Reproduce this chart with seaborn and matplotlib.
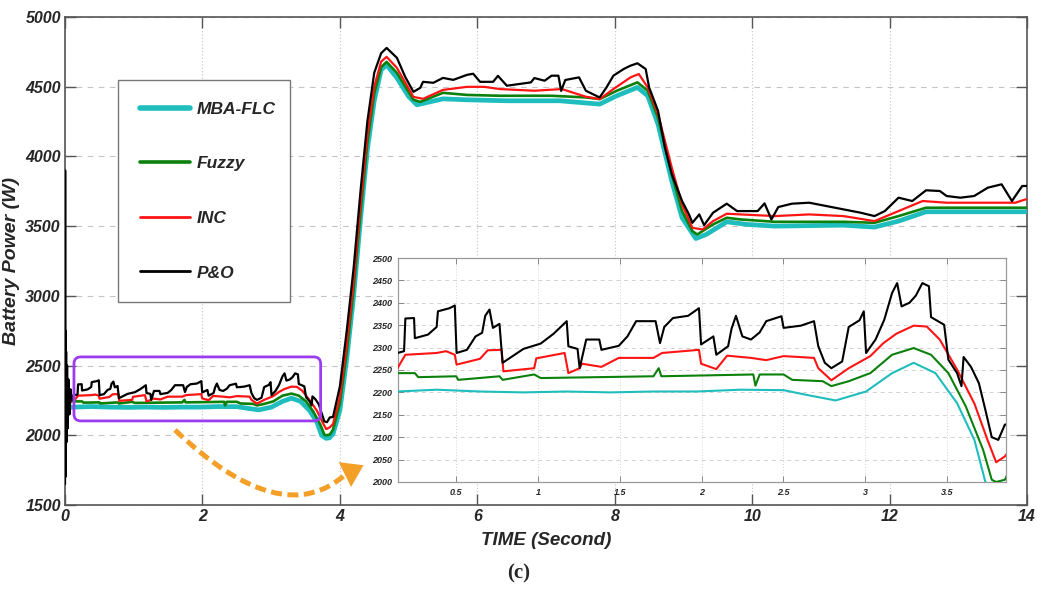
import numpy as np
import pandas as pd
import matplotlib
matplotlib.use("Agg")
import matplotlib.pyplot as plt
import seaborn as sns
from matplotlib.patches import FancyBboxPatch, FancyArrowPatch, PathPatch
from matplotlib.path import Path
from matplotlib.lines import Line2D

# ---------------- data ----------------
methods = ["MBA-FLC", "Fuzzy", "INC", "P&O"]

t_po = [0.0, 0.002, 0.005, 0.008, 0.012, 0.016, 0.02, 0.03, 0.04, 0.05, 0.065, 0.08, 0.1, 0.12,
        0.142, 0.182, 0.190, 0.243, 0.248, 0.328, 0.381, 0.389, 0.460, 0.492, 0.503, 0.566, 0.619,
        0.659, 0.678, 0.704, 0.725, 0.765, 0.784, 0.911, 1.017, 1.096, 1.176, 1.186, 1.242, 1.255,
        1.295, 1.375, 1.388, 1.494, 1.547, 1.600, 1.719, 1.746, 1.772, 1.825, 1.918, 1.984, 1.997,
        2.072, 2.090, 2.162, 2.183, 2.210, 2.249, 2.302, 2.355, 2.395, 2.488, 2.501, 2.607, 2.687,
        2.713, 2.753, 2.793, 2.859, 2.899, 2.965, 2.991, 3.005, 3.063, 3.116, 3.164, 3.195, 3.222,
        3.270, 3.309, 3.349, 3.389, 3.402, 3.482, 3.508, 3.561, 3.588, 3.601, 3.646, 3.694, 3.734,
        3.773, 3.813, 3.853,
        3.90, 4.00, 4.10, 4.20, 4.30, 4.40, 4.50, 4.60, 4.68, 4.83, 4.95, 5.07, 5.17, 5.21, 5.36,
        5.50, 5.65, 5.85, 5.94, 6.04, 6.23, 6.30, 6.43, 6.78, 6.83, 6.98, 7.08, 7.18, 7.22, 7.28,
        7.48, 7.58, 7.78, 7.88, 7.98, 8.13, 8.23, 8.33, 8.45, 8.50, 8.63, 8.73, 8.83, 8.98, 9.08,
        9.13, 9.23, 9.30, 9.43, 9.63, 9.78, 10.08, 10.18, 10.28, 10.38, 10.58, 10.83, 11.08, 11.33,
        11.58, 11.78, 11.93, 12.13, 12.33, 12.53, 12.73, 12.83, 13.03, 13.23, 13.43, 13.63, 13.78,
        13.93, 14.0]
p_po = [1650, 3900, 1700, 2750, 1750, 2600, 1950, 2500, 2050, 2400, 2150, 2330, 2250, 2285,
        2288, 2292, 2365, 2366, 2321, 2329, 2346, 2381, 2388, 2394, 2288, 2295, 2325, 2333, 2371,
        2385, 2344, 2353, 2266, 2297, 2309, 2331, 2359, 2303, 2297, 2254, 2318, 2318, 2295, 2304,
        2325, 2359, 2359, 2310, 2346, 2366, 2371, 2388, 2307, 2325, 2284, 2303, 2342, 2371, 2325,
        2318, 2334, 2359, 2370, 2344, 2349, 2359, 2303, 2266, 2254, 2269, 2346, 2361, 2381, 2288,
        2318, 2362, 2422, 2444, 2392, 2400, 2416, 2444, 2437, 2368, 2351, 2273, 2243, 2214, 2279,
        2257, 2221, 2161, 2100, 2094, 2128,
        2131, 2350, 2750, 3200, 3750, 4250, 4600, 4740, 4778, 4707, 4571, 4463, 4492, 4535, 4528,
        4563, 4549, 4585, 4593, 4535, 4535, 4578, 4507, 4531, 4562, 4543, 4579, 4579, 4470, 4548,
        4567, 4471, 4423, 4495, 4579, 4627, 4651, 4668, 4627, 4495, 4327, 4064, 3872, 3680, 3584,
        3524, 3584, 3507, 3596, 3661, 3608, 3608, 3663, 3548, 3637, 3661, 3668, 3644, 3620, 3596,
        3572, 3608, 3704, 3680, 3757, 3752, 3716, 3704, 3716, 3776, 3800, 3680, 3788, 3788]

t_inc = [0.02, 0.06, 0.10, 0.142, 0.190, 0.381, 0.439, 0.492, 0.503, 0.646, 0.693, 0.778, 0.789,
         0.977, 0.990, 1.163, 1.186, 1.255, 1.269, 1.388, 1.494, 1.706, 1.759, 1.984, 1.997, 2.090,
         2.156, 2.302, 2.395, 2.501, 2.687, 2.713, 2.793, 2.899, 3.031, 3.111, 3.190, 3.296, 3.376,
         3.455, 3.561, 3.667, 3.747, 3.800, 3.853,
         3.90, 4.00, 4.10, 4.20, 4.30, 4.40, 4.50, 4.60, 4.68, 4.83, 5.07, 5.21, 5.50, 5.85, 6.10,
         6.33, 6.83, 7.23, 7.58, 7.78, 7.98, 8.23, 8.35, 8.48, 8.63, 8.83, 8.98, 9.13, 9.28, 9.43,
         9.63, 9.83, 10.33, 10.83, 11.33, 11.78, 12.13, 12.48, 12.83, 13.33, 13.83, 13.98, 14.0]
p_inc = [2300, 2220, 2260, 2254, 2284, 2288, 2292, 2284, 2262, 2275, 2294, 2295, 2247, 2254, 2276,
         2288, 2243, 2254, 2264, 2257, 2277, 2277, 2288, 2295, 2264, 2252, 2282, 2277, 2272, 2281,
         2277, 2254, 2227, 2254, 2281, 2310, 2331, 2349, 2347, 2318, 2251, 2175, 2094, 2044, 2057,
         2080, 2275, 2650, 3100, 3650, 4150, 4500, 4680, 4714, 4635, 4427, 4413, 4477, 4499, 4499,
         4483, 4471, 4483, 4428, 4411, 4483, 4567, 4591, 4495, 4303, 3920, 3656, 3488, 3476, 3536,
         3589, 3584, 3572, 3584, 3572, 3536, 3608, 3680, 3668, 3668, 3668, 3692, 3692]

t_fuzzy = [0.02, 0.06, 0.10, 0.142, 0.248, 0.269, 0.500, 0.513, 0.765, 0.784, 0.977, 1.017, 1.706,
           1.738, 1.754, 2.316, 2.329, 2.355, 2.501, 2.554, 2.740, 2.793, 2.899, 3.031, 3.164,
           3.296, 3.402, 3.508, 3.614, 3.720, 3.773, 3.800, 3.853,
           3.90, 4.00, 4.10, 4.20, 4.30, 4.40, 4.50, 4.60, 4.68, 4.83, 5.07, 5.17, 5.50, 5.85, 6.33,
           7.08, 7.58, 7.78, 8.03, 8.33, 8.48, 8.63, 8.83, 8.98, 9.13, 9.20, 9.43, 9.63, 9.83, 10.33,
           11.33, 11.78, 12.13, 12.53, 13.30, 14.0]
p_fuzzy = [2260, 2230, 2245, 2243, 2243, 2234, 2236, 2228, 2236, 2228, 2240, 2232, 2236, 2254, 2236,
           2240, 2215, 2240, 2240, 2228, 2225, 2214, 2225, 2243, 2284, 2299, 2284, 2243, 2169, 2072,
           2005, 2000, 2005,
           2040, 2230, 2600, 3050, 3600, 4100, 4450, 4640, 4678, 4599, 4406, 4391, 4456, 4441, 4435,
           4435, 4423, 4411, 4471, 4531, 4471, 4279, 3872, 3608, 3464, 3440, 3512, 3560, 3548, 3531,
           3531, 3524, 3572, 3632, 3632, 3632]

t_mba = [0.02, 0.06, 0.10, 0.142, 0.381, 0.646, 0.911, 1.176, 1.441, 1.706, 1.971, 2.236, 2.501,
         2.634, 2.819, 3.005, 3.164, 3.296, 3.429, 3.561, 3.667, 3.734, 3.80, 3.85,
         3.90, 4.00, 4.10, 4.20, 4.30, 4.40, 4.50, 4.60, 4.68, 4.83, 5.00, 5.12, 5.50, 5.85, 6.43,
         7.20, 7.78, 8.03, 8.33, 8.48, 8.63, 8.83, 8.98, 9.18, 9.33, 9.63, 9.93, 10.33, 11.33, 11.78,
         12.13, 12.53, 13.30, 14.0]
p_mba = [2180, 2210, 2200, 2202, 2206, 2202, 2200, 2202, 2200, 2202, 2202, 2206, 2205, 2195, 2182,
         2202, 2243, 2266, 2243, 2176, 2094, 2000, 1978, 1982,
         2010, 2180, 2550, 3000, 3550, 4050, 4400, 4620, 4657, 4563, 4430, 4370, 4413, 4406, 4399,
         4399, 4375, 4435, 4495, 4435, 4231, 3824, 3560, 3411, 3440, 3531, 3512, 3500, 3507, 3493,
         3536, 3603, 3603, 3603]

x_ticks = [0, 2, 4, 6, 8, 10, 12, 14]
y_ticks = [1500, 2000, 2500, 3000, 3500, 4000, 4500, 5000]
inset_x_ticks = [0.5, 1.0, 1.5, 2.0, 2.5, 3.0, 3.5]
inset_x_labels = ["0.5", "1", "1.5", "2", "2.5", "3", "3.5"]
inset_y_ticks = [2000, 2050, 2100, 2150, 2200, 2250, 2300, 2350, 2400, 2450, 2500]
zoom_window = (0.13, 3.72, 2103, 2562)   # t0, t1, p0, p1 of the highlighted region

# ---------------- styling ----------------
colors = {"MBA-FLC": "#1fbdbd", "Fuzzy": "#0b800b", "INC": "#ff1414", "P&O": "#000000"}
main_lw = {"MBA-FLC": 3.4, "Fuzzy": 1.9, "INC": 1.6, "P&O": 1.6}
leg_lw = {"MBA-FLC": 4.0, "Fuzzy": 2.6, "INC": 2.0, "P&O": 2.0}

sns.set_theme(style="white")
plt.rcParams["font.family"] = ["Liberation Sans", "DejaVu Sans"]

series = {"MBA-FLC": (t_mba, p_mba), "Fuzzy": (t_fuzzy, p_fuzzy),
          "INC": (t_inc, p_inc), "P&O": (t_po, p_po)}
df = pd.concat([pd.DataFrame({"t": series[m][0], "P": series[m][1], "method": m})
                for m in methods], ignore_index=True)

fig = plt.figure(figsize=(10.37, 5.96), dpi=100)
ax = fig.add_axes([0.0627, 0.1527, 0.9277, 0.8188])

for m in methods:
    sns.lineplot(data=df[df.method == m], x="t", y="P", color=colors[m], lw=main_lw[m],
                 estimator=None, sort=False, ax=ax, zorder=3)

ax.set_xlim(0, 14)
ax.set_ylim(1500, 5000)
ax.set_xticks(x_ticks)
ax.set_yticks(y_ticks)
ax.set_xticklabels([str(v) for v in x_ticks])
ax.set_yticklabels([str(v) for v in y_ticks])
ax.tick_params(direction="in", length=8, width=1.0, top=True, right=True, bottom=True, left=True,
               color="#555555", labelsize=11.5, pad=3)
for lbl in ax.get_xticklabels() + ax.get_yticklabels():
    lbl.set_fontweight("bold")
    lbl.set_fontstyle("italic")
ax.yaxis.grid(True, linestyle=(0, (5, 5)), color="#c4c4c4", lw=0.8)
ax.xaxis.grid(True, linestyle=(0, (1, 2)), color="#c4c4c4", lw=0.8)
ax.set_axisbelow(True)
for s in ax.spines.values():
    s.set_color("#555555")
    s.set_linewidth(1.2)

ax.set_xlabel("TIME (Second)", fontsize=13.5, fontweight="bold", fontstyle="italic", labelpad=6)
ax.set_ylabel("Battery Power (W)", fontsize=14, fontweight="bold", fontstyle="italic", labelpad=4)

handles = [Line2D([0], [0], color=colors[m], lw=leg_lw[m]) for m in methods]
leg = ax.legend(handles, methods, loc="upper left", bbox_to_anchor=(0.0551, 0.3, 0.1788, 0.5709),
                mode="expand", borderaxespad=0, frameon=True, fancybox=False, framealpha=1,
                edgecolor="#777777", labelspacing=2.27, handlelength=2.9, handletextpad=0.4,
                borderpad=1.25, prop={"weight": "bold", "style": "italic", "size": 12.5})
leg.get_frame().set_linewidth(1.0)
leg.set_zorder(5)

# highlighted zoom region
t0, t1, q0, q1 = zoom_window
box = FancyBboxPatch((t0, q0), t1 - t0, q1 - q0, boxstyle="round,pad=0,rounding_size=0.1",
                     mutation_aspect=493, transform=ax.transData, fill=False,
                     edgecolor="#9b3cf0", lw=2.0, zorder=6)
ax.add_patch(box)

# orange dashed arrow (figure fraction coords)
W, H = 1037.0, 596.0
def ff(px, py):
    return (px / W, 1 - py / H)
A, C, B = ff(175, 430), ff(282, 532), ff(346, 474)
body = PathPatch(Path([A, C, B], [Path.MOVETO, Path.CURVE3, Path.CURVE3]),
                 transform=fig.transFigure, fill=False, edgecolor="#f4a028", lw=3.6,
                 linestyle=(0, (2.2, 1.1)), capstyle="butt")
fig.add_artist(body)
head = FancyArrowPatch(ff(340, 477), ff(366, 464), transform=fig.transFigure,
                       arrowstyle="-|>,head_length=0.75,head_width=0.5", mutation_scale=20,
                       color="#f4a028", lw=0)
fig.add_artist(head)

# ---------------- inset ----------------
axin = fig.add_axes([0.3838, 0.1913, 0.5863, 0.3758])
axin.set_facecolor("white")
for m in methods:
    sns.lineplot(data=df[df.method == m], x="t", y="P", color=colors[m], lw=1.5,
                 estimator=None, sort=False, ax=axin, zorder=3)
axin.set_xlim(0.145, 3.86)
axin.set_ylim(2000, 2500)
axin.set_xticks(inset_x_ticks)
axin.set_xticklabels(inset_x_labels)
axin.set_yticks(inset_y_ticks)
axin.set_yticklabels([str(v) for v in inset_y_ticks])
axin.tick_params(direction="in", length=4, width=0.6, top=True, right=True, bottom=True, left=True,
                 color="#777777", labelsize=6.5, pad=4)
for lbl in axin.get_xticklabels() + axin.get_yticklabels():
    lbl.set_fontweight("bold")
    lbl.set_fontstyle("italic")
axin.yaxis.grid(True, linestyle=(0, (4, 4)), color="#d2d2d2", lw=0.7)
axin.xaxis.grid(True, linestyle=(0, (1, 2)), color="#d2d2d2", lw=0.7)
axin.set_axisbelow(True)
axin.set_xlabel("")
axin.set_ylabel("")
for s in axin.spines.values():
    s.set_color("#9a9a9a")
    s.set_linewidth(0.9)

fig.text(0.5, 0.037, "(c)", ha="center", va="center", fontsize=15, fontweight="bold",
         family=["Liberation Serif", "DejaVu Serif"])

fig.savefig("out.png", dpi=100)
